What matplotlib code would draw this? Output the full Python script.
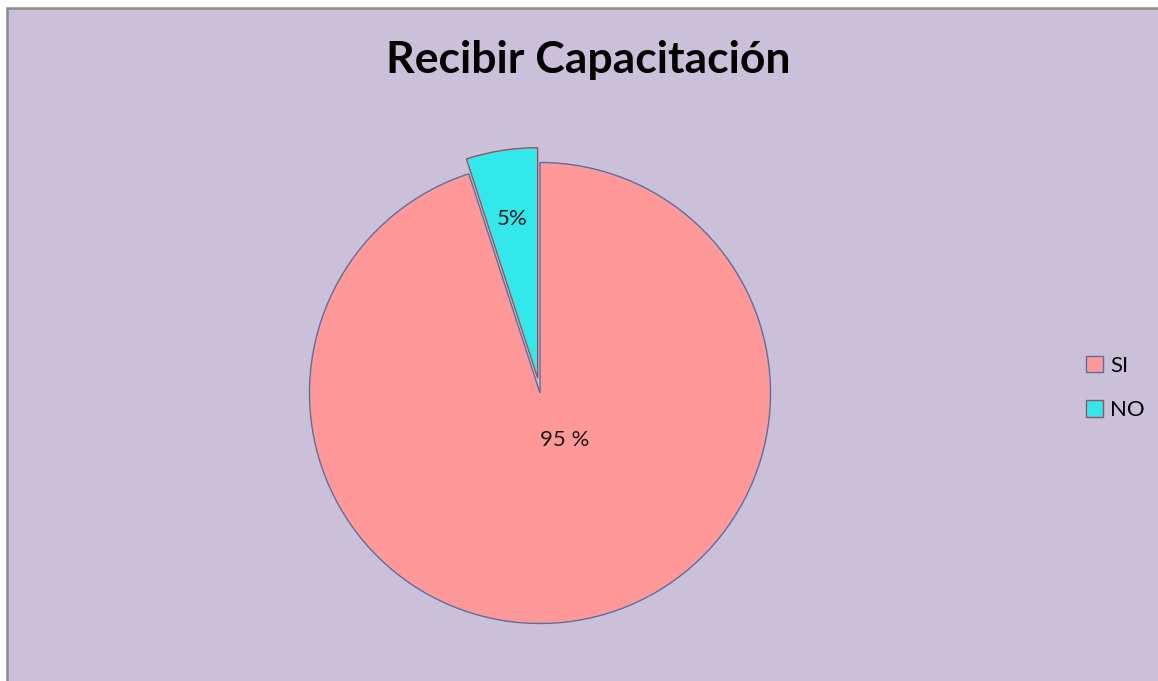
import matplotlib
matplotlib.use("Agg")
import matplotlib.pyplot as plt
from matplotlib.patches import Rectangle, Patch
import numpy as np

# Data
categories = ["SI", "NO"]
values = [95, 5]
pct_labels = ["95 %", "5%"]
title = "Recibir Capacitación"

face_colors = ["#FF9999", "#33E8EB"]
edge_colors = ["#5E6E9E", "#A0505A"]
bg = "#CAC0DA"

W, H = 1158, 681
fig = plt.figure(figsize=(W / 100, H / 100), dpi=100)
fig.patch.set_facecolor("white")

# Chart area with border on left/top
fig.patches.append(Rectangle((7 / W, -0.1), 1.2, 1.1 - 8 / H, transform=fig.transFigure,
                             facecolor=bg, edgecolor="#8C8C8C", linewidth=1.8, zorder=-5))

font = "Lato"
fig.text(588 / W, 1 - 60 / H, title, ha="center", va="center", fontsize=32,
         fontweight="bold", family=font, color="black")

cx, cy, R = 540, 393, 230.5
ax = fig.add_axes([(cx - R) / W, 1 - (cy + R) / H, 2 * R / W, 2 * R / H])
ax.set_zorder(2)
ax.set_xlim(-1, 1)
ax.set_ylim(-1, 1)
ax.axis("off")

wedges, _ = ax.pie(values, startangle=90, counterclock=False, colors=face_colors,
                   explode=[0, 0.065], radius=1.0,
                   wedgeprops=dict(linewidth=1.0))
for w, ec in zip(wedges, edge_colors):
    w.set_edgecolor(ec)
    w.set_clip_on(False)
ax.set_xlim(-1, 1)
ax.set_ylim(-1, 1)

# Percentage labels placed relative to each wedge
label_r = [0.23, 0.70]
label_dang = [19, 0]
for w, lab, r, da in zip(wedges, pct_labels, label_r, label_dang):
    ang = np.deg2rad((w.theta1 + w.theta2) / 2 + da)
    x0, y0 = w.center
    ax.text(x0 + r * np.cos(ang), y0 + r * np.sin(ang), lab, ha="center", va="center",
            fontsize=16, family=font, color="#1a1a1a")

handles = [Patch(facecolor=fc, edgecolor=ec, linewidth=1.0) for fc, ec in zip(face_colors, edge_colors)]
fig.legend(handles, categories, loc="center left", bbox_to_anchor=(1066 / W, 1 - 388 / H),
           frameon=False, prop=dict(family=font, size=16), handlelength=0.75, handleheight=0.75,
           handletextpad=0.35, labelspacing=1.1)

fig.savefig("out.png", dpi=100, facecolor="white")
